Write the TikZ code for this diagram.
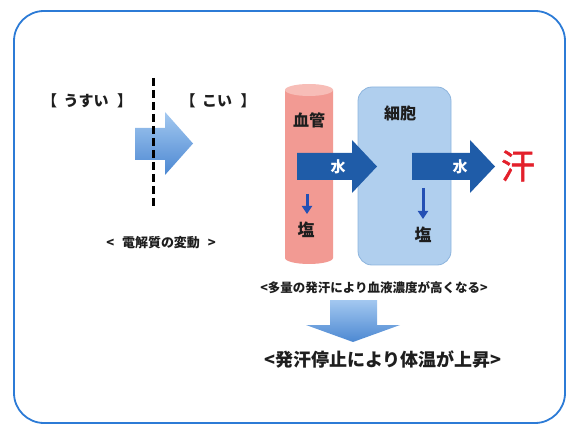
\documentclass[tikz,border=0pt]{standalone}
\usepackage{fontspec}
\usetikzlibrary{arrows.meta}
\newfontfamily\jp{Noto Sans CJK JP}
\newfontfamily\jpmed{Noto Sans CJK JP}[FakeBold=1.6]
\definecolor{framec}{HTML}{2C7BD6}
\definecolor{txt}{HTML}{1E1E1E}
\definecolor{pinkc}{HTML}{F29A93}
\definecolor{pinktop}{HTML}{F7BDB7}
\definecolor{cellc}{HTML}{B0CFEE}
\definecolor{celledge}{HTML}{8DB4DD}
\definecolor{darkb}{HTML}{1F5CA8}
\definecolor{lightA}{HTML}{A3C8F0}
\definecolor{lightB}{HTML}{4C88D2}
\definecolor{redc}{HTML}{E3202B}
\definecolor{smallarr}{HTML}{2450B4}
\tikzset{
  lbl/.style={font=\jp\bfseries, text=txt, inner sep=0pt},
  water/.style={font=\jp\bfseries\fontsize{15}{15}\selectfont, text=white, inner sep=0pt},
  salt/.style={lbl, font=\jp\bfseries\fontsize{17}{17}\selectfont},
  bigarrow/.style={fill=darkb},
  downarr/.style={draw=smallarr, line width=3pt, -{Triangle[length=8pt,width=10pt]}}
}
\begin{document}
\begin{tikzpicture}[x=1pt,y=-1pt]
\useasboundingbox (0,0) rectangle (571,425);
% frame
\begin{scope}
\clip (0,0) rectangle (571,425);
\draw[framec, line width=1.8pt, rounded corners=30pt] (14,11) rectangle (565,423);
\end{scope}

% left part
\node[lbl, font=\jp\bfseries\fontsize{15}{15}\selectfont] (usui) at (87,101) {【\hspace{0.45em}うすい\hspace{0.55em}】};
\node[lbl, font=\jp\bfseries\fontsize{15}{15}\selectfont] (koi) at (218,101) {【\hspace{0.45em}こい\hspace{0.55em}】};
\shade[top color=lightA, bottom color=lightB]
  (135,128) -- (165,128) -- (165,112) -- (193,143.5) -- (165,175) -- (165,160) -- (135,160) -- cycle;
\coordinate (dtop) at (153,78);
\coordinate (dbot) at (153,207);
\draw[black, line width=3pt, dash pattern=on 8pt off 4pt] (dtop) -- (dbot);
\node[lbl, font=\jp\bfseries\fontsize{13}{13}\selectfont] (denkai) at (161,243) {<\hspace{0.6em}電解質の変動\hspace{0.6em}>};

% blood vessel (cylinder)
\fill[pinkc] (285,90) -- (285,258) arc[start angle=180, end angle=360, x radius=24pt, y radius=6pt] -- (333,90) -- cycle;
\fill[pinktop] (309,90) ellipse[x radius=24pt, y radius=6pt];
\node[lbl, font=\jp\bfseries\fontsize{16}{16}\selectfont] (kekkan) at (309,120) {血管};

% cell
\draw[celledge, fill=cellc, line width=0.8pt, rounded corners=14pt] (358,87) rectangle (451,265);
\node[lbl, font=\jp\bfseries\fontsize{16}{16}\selectfont] (saibou) at (400,113) {細胞};

% water arrows
\fill[bigarrow] (297,153) -- (352,153) -- (352,140) -- (377,166.5) -- (352,193) -- (352,180) -- (297,180) -- cycle;
\node[water] (mizu1) at (338,167) {水};
\fill[bigarrow] (412,153) -- (470,153) -- (470,140) -- (495,166.5) -- (470,193) -- (470,180) -- (412,180) -- cycle;
\node[water] (mizu2) at (460,167) {水};
\node[font=\jpmed\fontsize{34}{34}\selectfont, text=redc, inner sep=0pt] (ase) at (518,166) {汗};

% salt arrows
\coordinate (s1top) at (307,194);
\coordinate (s1end) at (307,214);
\node[salt] (en1) at (306,230) {塩};
\draw[downarr] (s1top) -- (s1end);
\coordinate (s2top) at (423,188);
\coordinate (s2end) at (423,219);
\node[salt] (en2) at (423,235) {塩};
\draw[downarr] (s2top) -- (s2end);

% bottom
\node[lbl, font=\jp\bfseries\fontsize{12.5}{12.5}\selectfont] (tary) at (374,288) {<多量の発汗により血液濃度が高くなる>};
\shade[top color=lightA, bottom color=lightB]
  (330,300) -- (377,300) -- (377,325) -- (400,325) -- (353,342) -- (306,325) -- (330,325) -- cycle;
\node[lbl, font=\jp\bfseries\fontsize{18}{18}\selectfont] (hakkan) at (383,359) {<発汗停止により体温が上昇>};
\end{tikzpicture}
\end{document}
